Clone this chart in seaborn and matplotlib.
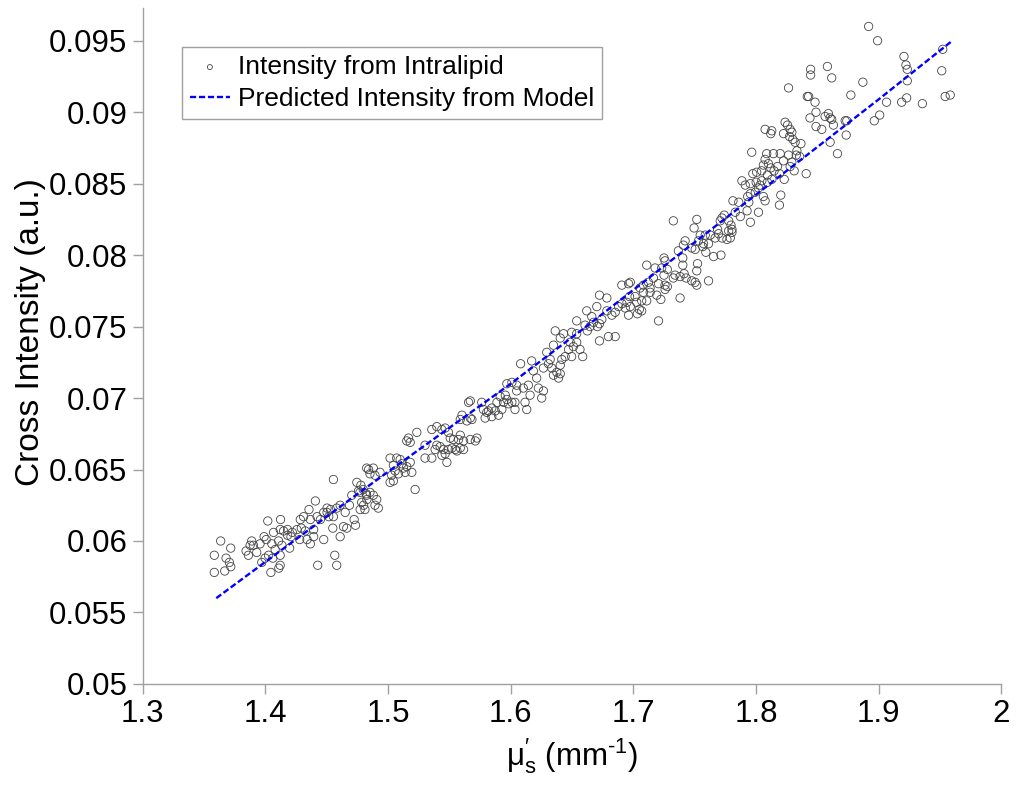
import matplotlib
matplotlib.use("Agg")
import matplotlib.pyplot as plt
import seaborn as sns

# ---- data ----
intralipid_x = [
    1.4555, 1.4842, 1.3636, 1.3718, 1.3584, 1.3680, 1.3707, 1.3718, 1.3584, 1.3669,
    1.4045, 1.3843, 1.3876, 1.3889, 1.3862, 1.3930, 1.3957, 1.3990, 1.4007, 1.4020,
    1.4124, 1.4067, 1.4053, 1.4026, 1.4080, 1.4061, 1.3971, 1.4121, 1.4110, 1.4121,
    1.4149, 1.4181, 1.4181, 1.4209, 1.4220, 1.4135, 1.4121, 1.4198, 1.4258, 1.4285,
    1.4312, 1.4326, 1.4340, 1.4356, 1.4367, 1.4394, 1.4408, 1.4422, 1.4449, 1.4476,
    1.4503, 1.4531, 1.4550, 1.4555, 1.4566, 1.4582, 1.4427, 1.4582, 1.4610, 1.4637,
    1.4664, 1.4651, 1.4686, 1.4724, 1.4735, 1.4746, 1.4773, 1.4801, 1.4828, 1.4779,
    1.4760, 1.4823, 1.4705, 1.4476, 1.4517, 1.4280, 1.4367, 1.4293, 1.3998, 1.3903,
    1.4108, 1.4394, 1.4503, 1.4610,
    1.4771, 1.4826, 1.4853, 1.4880, 1.4894, 1.4798, 1.4826, 1.4853, 1.4880, 1.4908,
    1.4894, 1.4921, 1.4812, 1.4785, 1.4935, 1.5017, 1.5044, 1.5071, 1.5099, 1.5112,
    1.5058, 1.5030, 1.5085, 1.5126, 1.5153, 1.5181, 1.5194, 1.5140, 1.5017, 1.5044,
    1.5221, 1.5153, 1.5181, 1.5167, 1.5235, 1.5302, 1.5302, 1.5357, 1.5384, 1.5398,
    1.5425, 1.5453, 1.5466, 1.5480, 1.5439, 1.5493, 1.5521, 1.5548, 1.5562, 1.5589,
    1.5616, 1.5357, 1.5398, 1.5439, 1.5466, 1.5493, 1.5507, 1.5534, 1.5575, 1.5589,
    1.5616, 1.5671, 1.5712, 1.5725, 1.5603, 1.5589, 1.5671, 1.5643, 1.5684, 1.5657,
    1.5671, 1.5764, 1.5778, 1.5805, 1.5792, 1.5846, 1.5874, 1.5901, 1.5928, 1.5942,
    1.5915, 1.5956, 1.5969, 1.5983, 1.6010, 1.6035, 1.6035, 1.6049, 1.5969, 1.6010,
    1.6049, 1.5819, 1.5846, 1.5888,
    1.6081, 1.6103, 1.6144, 1.6171, 1.6185, 1.6212, 1.6226, 1.6267, 1.6253, 1.6158,
    1.6131, 1.6117, 1.6267, 1.6294, 1.6308, 1.6322, 1.6335, 1.6349, 1.6376, 1.6390,
    1.6404, 1.6417, 1.6404, 1.6444, 1.6472, 1.6497, 1.6511, 1.6485, 1.6538, 1.6565,
    1.6587, 1.6538, 1.6497, 1.6431, 1.6404, 1.6363, 1.6349, 1.6538, 1.6606, 1.6625,
    1.6647, 1.6675, 1.6707, 1.6724, 1.6743, 1.6661, 1.6620, 1.6702, 1.6724, 1.6784,
    1.6724, 1.6797, 1.6852, 1.6784, 1.6825, 1.6852, 1.6879, 1.6907, 1.6934, 1.6948,
    1.6969, 1.6975, 1.6961, 1.7033, 1.7049, 1.7068, 1.7027, 1.7014, 1.7068, 1.7109,
    1.7082, 1.7137, 1.7191, 1.7224, 1.7205, 1.7259,
    1.7109, 1.7177, 1.7164, 1.7123, 1.7082, 1.6975, 1.6961, 1.6906, 1.7205, 1.7055,
    1.7136,
    1.7326, 1.7517, 1.7495, 1.7545, 1.7586, 1.7613, 1.7572, 1.7531, 1.7627, 1.7667,
    1.7695, 1.7722, 1.7687, 1.7708, 1.7722, 1.7741, 1.7777, 1.7796, 1.7804, 1.7777,
    1.7804, 1.7790, 1.7763, 1.7831, 1.7872, 1.7927, 1.7954, 1.8020, 1.7812, 1.7859,
    1.7941, 1.7932, 1.7954, 1.7994, 1.8020, 1.8033, 1.8060, 1.8074, 1.7885, 1.7912,
    1.7953, 1.8001, 1.8047, 1.8093, 1.8129, 1.8230, 1.8202, 1.8191, 1.7422, 1.7408,
    1.7367, 1.7403, 1.7403, 1.7414, 1.7430, 1.7381, 1.7340, 1.7326, 1.7277, 1.7250,
    1.7258, 1.7231, 1.7250, 1.7277, 1.7258, 1.7381, 1.7504, 1.7517, 1.7476, 1.7613,
    1.7523, 1.7517, 1.7591, 1.7654, 1.7714, 1.7504, 1.7476, 1.7566,
    1.8265, 1.8429, 1.8237, 1.8257, 1.8278, 1.8292, 1.8224, 1.8273, 1.8300, 1.8319,
    1.8366, 1.8333, 1.8328, 1.8355, 1.8265, 1.8292, 1.8278, 1.8311, 1.8224, 1.8074,
    1.8128, 1.8120, 1.7965, 1.8087, 1.8142, 1.8197, 1.8074, 1.8101, 1.8120, 1.8060,
    1.8046, 1.8005, 1.7974, 1.8147, 1.8175, 1.8191, 1.8093, 1.8409,
    1.8489, 1.8536, 1.8631, 1.8735, 1.8604, 1.8664,
    1.8918, 1.8991, 1.9206, 1.9222, 1.9233, 1.9233, 1.9522, 1.9514, 1.9542, 1.9583,
    1.8445, 1.8445, 1.8582, 1.8617, 1.8871, 1.8773, 1.8418, 1.8481, 1.8489, 1.8563,
    1.8590, 1.8604, 1.8617, 1.8440, 1.8727, 1.8740, 1.8964, 1.9008, 1.9064, 1.9187,
    1.9228, 1.9356,
]
intralipid_y = [
    0.0643, 0.0650, 0.0600, 0.0595, 0.0590, 0.0588, 0.0585, 0.0582, 0.0578, 0.0579,
    0.0578, 0.0593, 0.0597, 0.0600, 0.0590, 0.0592, 0.0598, 0.0603, 0.0601, 0.0614,
    0.0615, 0.0606, 0.0598, 0.0590, 0.0594, 0.0588, 0.0585, 0.0583, 0.0581, 0.0608,
    0.0607, 0.0608, 0.0604, 0.0603, 0.0606, 0.0597, 0.0590, 0.0595, 0.0608, 0.0615,
    0.0617, 0.0607, 0.0601, 0.0622, 0.0615, 0.0608, 0.0628, 0.0617, 0.0615, 0.0601,
    0.0620, 0.0622, 0.0609, 0.0617, 0.0590, 0.0583, 0.0583, 0.0623, 0.0625, 0.0610,
    0.0609, 0.0620, 0.0625, 0.0615, 0.0611, 0.0641, 0.0622, 0.0625, 0.0629, 0.0639,
    0.0635, 0.0633, 0.0632, 0.0620, 0.0617, 0.0601, 0.0598, 0.0609, 0.0588, 0.0597,
    0.0600, 0.0603, 0.0623, 0.0603,
    0.0634, 0.0651, 0.0647, 0.0651, 0.0646, 0.0636, 0.0632, 0.0634, 0.0632, 0.0629,
    0.0625, 0.0623, 0.0622, 0.0627, 0.0648, 0.0658, 0.0653, 0.0658, 0.0657, 0.0654,
    0.0649, 0.0646, 0.0647, 0.0651, 0.0652, 0.0655, 0.0648, 0.0648, 0.0641, 0.0642,
    0.0636, 0.0670, 0.0669, 0.0672, 0.0676, 0.0667, 0.0658, 0.0658, 0.0664, 0.0667,
    0.0666, 0.0664, 0.0661, 0.0655, 0.0660, 0.0664, 0.0665, 0.0664, 0.0663, 0.0665,
    0.0664, 0.0678, 0.0680, 0.0678, 0.0679, 0.0676, 0.0672, 0.0671, 0.0671, 0.0674,
    0.0670, 0.0671, 0.0670, 0.0672, 0.0688, 0.0685, 0.0686, 0.0684, 0.0685, 0.0697,
    0.0698, 0.0697, 0.0692, 0.0690, 0.0686, 0.0693, 0.0691, 0.0688, 0.0692, 0.0697,
    0.0701, 0.0702, 0.0699, 0.0696, 0.0697, 0.0692, 0.0697, 0.0705, 0.0710, 0.0711,
    0.0709, 0.0691, 0.0687, 0.0697,
    0.0724, 0.0707, 0.0709, 0.0726, 0.0719, 0.0714, 0.0707, 0.0705, 0.0700, 0.0702,
    0.0692, 0.0697, 0.0721, 0.0732, 0.0724, 0.0727, 0.0721, 0.0716, 0.0718, 0.0714,
    0.0723, 0.0727, 0.0717, 0.0729, 0.0734, 0.0729, 0.0736, 0.0739, 0.0739, 0.0734,
    0.0729, 0.0745, 0.0746, 0.0745, 0.0742, 0.0747, 0.0737, 0.0754, 0.0751, 0.0747,
    0.0750, 0.0753, 0.0750, 0.0752, 0.0755, 0.0757, 0.0761, 0.0764, 0.0772, 0.0770,
    0.0740, 0.0743, 0.0743, 0.0761, 0.0758, 0.0760, 0.0764, 0.0766, 0.0763, 0.0767,
    0.0771, 0.0764, 0.0758, 0.0759, 0.0762, 0.0761, 0.0767, 0.0771, 0.0768, 0.0768,
    0.0774, 0.0774, 0.0772, 0.0769, 0.0754, 0.0776,
    0.0793, 0.0791, 0.0784, 0.0781, 0.0779, 0.0781, 0.0780, 0.0779, 0.0780, 0.0777,
    0.0777,
    0.0824, 0.0825, 0.0819, 0.0814, 0.0814, 0.0808, 0.0808, 0.0810, 0.0814, 0.0812,
    0.0815, 0.0812, 0.0818, 0.0824, 0.0826, 0.0828, 0.0824, 0.0821, 0.0818, 0.0817,
    0.0816, 0.0812, 0.0811, 0.0830, 0.0827, 0.0831, 0.0823, 0.0830, 0.0838, 0.0837,
    0.0837, 0.0841, 0.0843, 0.0844, 0.0847, 0.0849, 0.0841, 0.0838, 0.0852, 0.0849,
    0.0850, 0.0851, 0.0852, 0.0851, 0.0853, 0.0853, 0.0842, 0.0835, 0.0810, 0.0807,
    0.0803, 0.0798, 0.0793, 0.0787, 0.0784, 0.0785, 0.0786, 0.0784, 0.0790, 0.0798,
    0.0796, 0.0791, 0.0786, 0.0778, 0.0779, 0.0770, 0.0781, 0.0779, 0.0782, 0.0782,
    0.0794, 0.0789, 0.0802, 0.0799, 0.0800, 0.0804, 0.0805, 0.0806,
    0.0917, 0.0911, 0.0893, 0.0891, 0.0888, 0.0886, 0.0885, 0.0883, 0.0881, 0.0879,
    0.0878, 0.0873, 0.0870, 0.0869, 0.0870, 0.0865, 0.0862, 0.0859, 0.0866, 0.0888,
    0.0887, 0.0885, 0.0872, 0.0871, 0.0871, 0.0871, 0.0867, 0.0864, 0.0861, 0.0863,
    0.0859, 0.0858, 0.0857, 0.0859, 0.0862, 0.0857, 0.0856, 0.0857,
    0.0890, 0.0888, 0.0891, 0.0884, 0.0879, 0.0871,
    0.0960, 0.0950, 0.0939, 0.0933, 0.0930, 0.0922, 0.0944, 0.0929, 0.0911, 0.0912,
    0.0930, 0.0926, 0.0932, 0.0924, 0.0921, 0.0912, 0.0911, 0.0907, 0.0900, 0.0897,
    0.0899, 0.0896, 0.0895, 0.0896, 0.0894, 0.0894, 0.0894, 0.0898, 0.0907, 0.0907,
    0.0910, 0.0906,
]

model_x = [1.36, 1.42, 1.48, 1.54, 1.60, 1.66, 1.72, 1.78, 1.84, 1.90, 1.96]
model_y = [0.0560, 0.0598, 0.0636, 0.0673, 0.0710, 0.0749, 0.0789, 0.0829,
           0.0869, 0.0909, 0.0950]

x_ticks = [1.3, 1.4, 1.5, 1.6, 1.7, 1.8, 1.9, 2.0]
x_tick_labels = ["1.3", "1.4", "1.5", "1.6", "1.7", "1.8", "1.9", "2"]
y_ticks = [0.05, 0.055, 0.06, 0.065, 0.07, 0.075, 0.08, 0.085, 0.09, 0.095]
y_tick_labels = ["0.05", "0.055", "0.06", "0.065", "0.07", "0.075", "0.08",
                 "0.085", "0.09", "0.095"]

# ---- style ----
sns.set_style("ticks")
plt.rcParams['font.family'] = ['Liberation Sans', 'DejaVu Sans']
plt.rcParams['text.color'] = 'black'
plt.rcParams['axes.labelcolor'] = 'black'
plt.rcParams['mathtext.fontset'] = 'custom'
plt.rcParams['mathtext.rm'] = 'Liberation Sans'
plt.rcParams['mathtext.it'] = 'Liberation Sans'
plt.rcParams['mathtext.default'] = 'regular'

axis_grey = "#a0a0a0"

fig = plt.figure(figsize=(10.19, 7.87), dpi=100)
ax = fig.add_axes([0.140, 0.131, 0.8427, 0.859])

sns.scatterplot(x=intralipid_x, y=intralipid_y, ax=ax, marker="o", s=36,
                facecolors="none", edgecolor="#444444", linewidth=0.6,
                label="Intensity from Intralipid")
sns.lineplot(x=model_x, y=model_y, ax=ax, color="#0000ff", linewidth=1.7,
             linestyle=(0, (2.6, 1.2)), label="Predicted Intensity from Model")

ax.set_xlim(1.3, 2.0)
ax.set_ylim(0.05, 0.0973)
ax.set_xticks(x_ticks)
ax.set_xticklabels(x_tick_labels)
ax.set_yticks(y_ticks)
ax.set_yticklabels(y_tick_labels)

sns.despine(ax=ax)
for side in ["left", "bottom"]:
    ax.spines[side].set_color(axis_grey)
    ax.spines[side].set_linewidth(1.0)
ax.tick_params(direction="out", length=7, width=1.0, color=axis_grey,
               labelsize=22.5, labelcolor="black", pad=4)

ax.set_xlabel(r"$μ_{s}^{\prime}$ (mm$^{\text{-}1}$)", fontsize=22.5, labelpad=5)
ax.set_ylabel("Cross Intensity (a.u.)", fontsize=24)
ax.yaxis.set_label_coords(-0.112, 0.52)

leg = ax.legend(loc="upper left", bbox_to_anchor=(0.046, 0.942),
                borderaxespad=0, fontsize=19, frameon=True, fancybox=False,
                framealpha=1, edgecolor=axis_grey, markerscale=0.6,
                handlelength=1.5, handletextpad=0.3, labelspacing=0.3,
                borderpad=0.3)
leg.get_frame().set_linewidth(1.0)

fig.savefig("out.png", dpi=100)
